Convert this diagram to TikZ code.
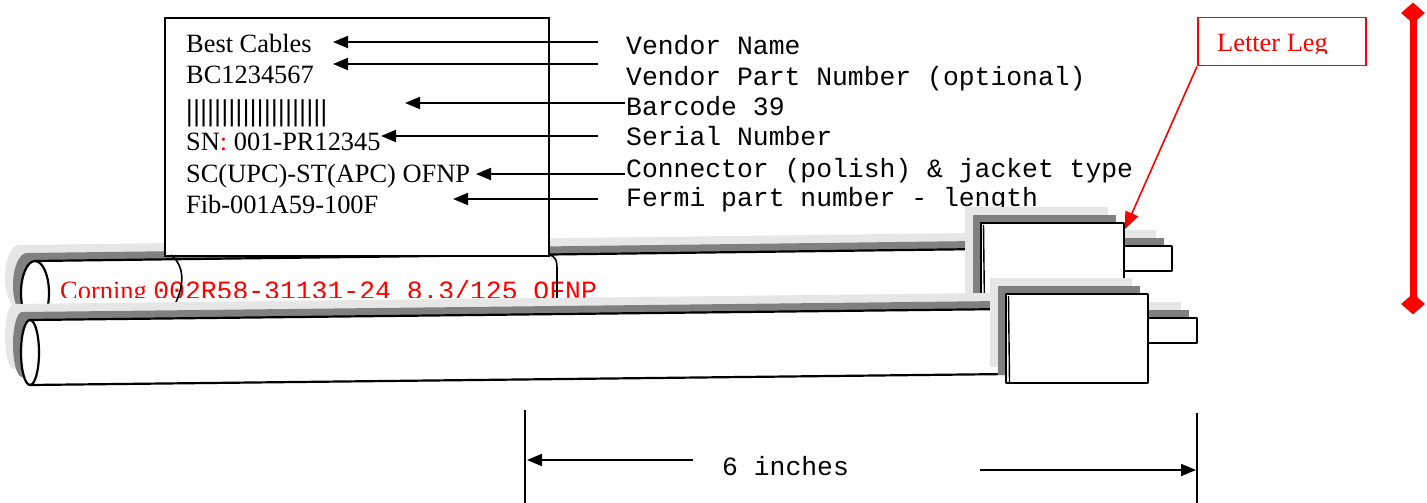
\documentclass[tikz,border=0pt]{standalone}
\usepackage{fontspec}
\setmainfont{Liberation Serif}
\setmonofont{Liberation Mono}
\usetikzlibrary{arrows.meta,shapes.geometric}
\definecolor{darksh}{HTML}{808080}
\definecolor{lightsh}{HTML}{E6E6E6}
\definecolor{lred}{HTML}{FF0000}
\newcommand\shadowtwo[2]{%
  \fill[lightsh, shift={(-16,-16)}] #1; \fill[lightsh, shift={(-16,-16)}] #2;
  \fill[darksh, shift={(-8,-8)}] #1; \fill[darksh, shift={(-8,-8)}] #2;}
\newcommand\shadowone[1]{%
  \fill[lightsh, shift={(-16,-16)}] #1;
  \fill[darksh, shift={(-8,-8)}] #1;}
\begin{document}
\begin{tikzpicture}[x=1pt,y=-1pt,
  serif/.style={font=\fontsize{26.4}{30}\selectfont, inner sep=0pt, anchor=base west},
  mono/.style={font=\ttfamily\fontsize{26.4}{30}\selectfont, inner sep=0pt, anchor=base west},
  ptr/.style={line width=2pt, -{Triangle[length=15pt,width=12pt]}},
  outl/.style={line width=2.2pt, line join=round},
  ]
\useasboundingbox (0,0) rectangle (1427,503);

% right-hand descriptions
\node[mono] (vn)  at (626,55)  {Vendor Name};
\node[mono] (vpn) at (626,85)  {Vendor Part Number (optional)};
\node[mono] (bc)  at (626,115) {Barcode 39};
\node[mono] (sn)  at (626,145) {Serial Number};
\node[mono] (ct)  at (626,177) {Connector (polish) \& jacket type};
\node[mono] (fp)  at (626,206) {Fermi part number - length};

% upper cable
\shadowtwo{(35,293) ellipse [x radius=14pt, y radius=32pt]}{(35,261) -- (985,249) -- (985,313) -- (35,325) -- cycle}
\fill[white] (35,293) ellipse [x radius=14pt, y radius=32pt];
\fill[white] (35,261) -- (985,249) -- (985,313) -- (35,325) -- cycle;
\draw[outl] (35,261) -- (985,249);
\draw[outl] (35,325) -- (985,313);
\draw[outl] (35,293) ellipse [x radius=14pt, y radius=32pt];
\shadowone{(1124,246) rectangle (1172,271)}
\draw[outl, fill=white] (1124,246) rectangle (1172,271);
\shadowone{(981,223) rectangle (1124,311)}
\draw[outl, fill=white] (981,223) rectangle (1124,311);
\draw[line width=1.4pt] (983.5,225) -- (984.5,310);
\coordinate (c1tip) at (1125,229);

% label
\node[draw, line width=2pt, fill=white, minimum width=384pt, minimum height=238pt,
      anchor=north west, inner sep=0pt] (label) at (164,17) {};
\node[serif] (vname) at (186,53)  {Best Cables};
\node[serif] (vpart) at (186,84)  {BC1234567};
\node[serif, font=\fontsize{30}{30}\selectfont\bfseries\addfontfeature{LetterSpace=1.6}] (bars) at (186,120) {||||||||||||||||||||};
\node[serif] (snl)   at (186,150) {SN{\color{lred}:} 001-PR12345};
\node[serif] (conn)  at (186,182) {SC(UPC)-ST(APC) OFNP};
\node[serif] (fib)   at (186,213) {Fib-001A59-100F};

\coordinate (s1) at (598,42);  \coordinate (t1) at (333,42);
\coordinate (s2) at (598,64);  \coordinate (t2) at (333,64);
\coordinate (s3) at (625,103); \coordinate (t3) at (405,103);
\coordinate (s4) at (598,136); \coordinate (t4) at (381,136);
\coordinate (s5) at (625,174); \coordinate (t5) at (476,174);
\coordinate (s6) at (598,199); \coordinate (t6) at (453,199);
\draw[ptr] (s1) -- (t1);
\draw[ptr] (s2) -- (t2);
\draw[ptr] (s3) -- (t3);
\draw[ptr] (s4) -- (t4);
\draw[ptr] (s5) -- (t5);
\draw[ptr] (s6) -- (t6);

% print on the cable
\begin{scope}
  \clip (0,0) rectangle (1427,297);
  \node[serif, text=lred] (corning) at (60,299) {Corning \ttfamily 002R58-31131-24 8.3/125 OFNP};
\end{scope}
\coordinate (w1a) at (171,255); \coordinate (w1b) at (176,302);
\coordinate (w2a) at (549,255); \coordinate (w2b) at (557,302);
\draw[line width=1.6pt] (w1a) .. controls (185,266) and (184,285) .. (w1b);
\draw[line width=1.6pt] (w2a) .. controls (556,256) and (557,261) .. (557,270) -- (w2b);

% lower cable
\shadowtwo{(30,352.5) ellipse [x radius=9pt, y radius=32.5pt]}{(30,320) -- (1010,309) -- (1010,374) -- (30,385) -- cycle}
\fill[white] (30,352.5) ellipse [x radius=9pt, y radius=32.5pt];
\fill[white] (30,320) -- (1010,309) -- (1010,374) -- (30,385) -- cycle;
\draw[outl] (30,320) -- (1010,309);
\draw[outl] (30,385) -- (1010,374);
\draw[outl] (30,352.5) ellipse [x radius=9pt, y radius=32.5pt];
\shadowone{(1148,318) rectangle (1197,343)}
\draw[outl, fill=white] (1148,318) rectangle (1197,343);
\shadowone{(1006,294) rectangle (1148,383)}
\draw[outl, fill=white] (1006,294) rectangle (1148,383);
\draw[line width=1.4pt] (1008.5,296) -- (1009.5,382);

% Letter Leg callout
\begin{scope}
  \clip (1197,17) rectangle (1365,54);
  \node[serif, text=lred] (ll) at (1217,52) {Letter Leg};
\end{scope}
\node[draw=lred, line width=1.5pt, minimum width=168pt, minimum height=48pt,
      anchor=north west, inner sep=0pt] (llbox) at (1197,17) {};
\draw[lred, line width=1.6pt, -{Triangle[length=17pt,width=14pt]}] (llbox.south west) -- (c1tip);

% red height marker
\node[diamond, fill=lred, minimum width=24pt, minimum height=21pt, inner sep=0pt] (dtop) at (1413,13) {};
\node[diamond, fill=lred, minimum width=24pt, minimum height=21pt, inner sep=0pt] (dbot) at (1413,304) {};
\draw[lred, line width=7pt] (dtop.center) -- (dbot.center);

% length dimension
\coordinate (d1a) at (525,410);  \coordinate (d1b) at (525,503);
\coordinate (d2a) at (1197,413); \coordinate (d2b) at (1197,503);
\draw[line width=2pt] (d1a) -- (d1b);
\draw[line width=2pt] (d2a) -- (d2b);
\node[mono] (six) at (722,475) {6 inches};
\coordinate (la) at (693,460); \coordinate (lb) at (527,460);
\coordinate (ra) at (980,470); \coordinate (rb) at (1196,470);
\draw[ptr] (la) -- (lb);
\draw[ptr] (ra) -- (rb);
\end{tikzpicture}
\end{document}
